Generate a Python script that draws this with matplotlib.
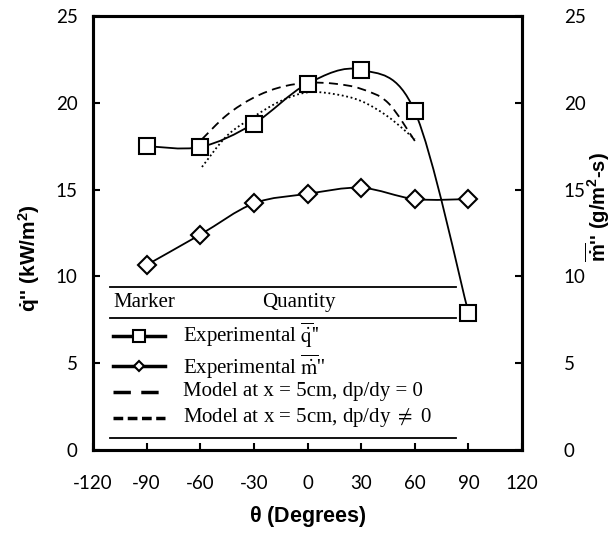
import numpy as np
import matplotlib
matplotlib.use('Agg')
import matplotlib.pyplot as plt
from matplotlib.path import Path
from matplotlib.patches import PathPatch
from matplotlib.lines import Line2D

plt.rcParams['axes.unicode_minus'] = False
plt.rcParams['mathtext.fontset'] = 'custom'
plt.rcParams['mathtext.rm'] = 'Liberation Sans:bold'
plt.rcParams['mathtext.it'] = 'Liberation Sans:bold'
plt.rcParams['mathtext.bf'] = 'Liberation Sans:bold'

# data
theta = [-90, -60, -30, 0, 30, 60, 90]
q_exp = [17.5, 17.45, 18.8, 21.1, 21.9, 19.5, 7.9]
m_exp = [10.65, 12.4, 14.2, 14.75, 15.1, 14.45, 14.45]

theta_model = [-59, -45, -30, -15, 0, 15, 30, 45, 60]
q_model_dp0 = [17.9, 19.3, 20.3, 20.9, 21.15, 21.1, 20.8, 20.0, 17.8]
q_model_dpn = [16.3, 18.1, 19.2, 20.1, 20.6, 20.5, 20.1, 19.2, 17.9]

x_ticks = [-120, -90, -60, -30, 0, 30, 60, 90, 120]
y_ticks = [0, 5, 10, 15, 20, 25]


def smooth_path(xs, ys):
    # excel style smoothed line: catmull-rom segments as cubic beziers
    pts = np.column_stack([xs, ys]).astype(float)
    ext = np.vstack([pts[0], pts, pts[-1]])
    verts = [pts[0]]
    codes = [Path.MOVETO]
    for i in range(1, len(ext) - 2):
        p0, p1, p2, p3 = ext[i - 1], ext[i], ext[i + 1], ext[i + 2]
        verts += [p1 + (p2 - p0) / 6.0, p2 - (p3 - p1) / 6.0, p2]
        codes += [Path.CURVE4] * 3
    return Path(verts, codes)


fig = plt.figure(figsize=(6.15, 5.33), dpi=100)
ax = fig.add_axes([0.151, 0.156, 0.698, 0.814])

ax.add_patch(PathPatch(smooth_path(theta, q_exp), fill=False, color='k', lw=1.3, zorder=3))
ax.add_patch(PathPatch(smooth_path(theta, m_exp), fill=False, color='k', lw=1.3, zorder=3))
ax.add_patch(PathPatch(smooth_path(theta_model, q_model_dp0), fill=False, color='k', lw=1.3,
                       linestyle=(0, (5, 3)), zorder=3))
ax.add_patch(PathPatch(smooth_path(theta_model, q_model_dpn), fill=False, color='k', lw=1.3,
                       linestyle=(0, (1, 1.5)), zorder=3))
ax.plot(theta, q_exp, 's', ms=11.5, mfc='white', mec='k', mew=1.5, ls='none', zorder=4)
ax.plot(theta, m_exp, 'D', ms=9, mfc='white', mec='k', mew=1.5, ls='none', zorder=4)

ax.set_xlim(-120, 120)
ax.set_ylim(0, 25)
ax.set_xticks(x_ticks)
ax.set_yticks(y_ticks)
for s in ax.spines.values():
    s.set_linewidth(2.2)
ax.tick_params(direction='in', length=5, width=1.5, labelsize=13.5)
ax.tick_params(axis='x', pad=18)
ax.tick_params(axis='y', pad=11)
for lab in ax.get_xticklabels() + ax.get_yticklabels():
    lab.set_fontfamily('Lato')

ax2 = ax.twinx()
ax2.set_ylim(0, 25)
ax2.set_yticks(y_ticks)
ax2.tick_params(direction='in', length=5, width=1.5, labelsize=13.5, pad=30)
for lab in ax2.get_yticklabels():
    lab.set_fontfamily('Lato')
for s in ax2.spines.values():
    s.set_linewidth(2.2)

ax.set_xlabel(r'$\mathbf{\theta}$ (Degrees)', fontsize=15.5, fontweight='bold',
              family='Liberation Sans', labelpad=9)
fig.text(0.047, 0.516, r"$\dot{q}$'' (kW/m$^{2}$)", rotation=90, ha='center', va='center',
         fontsize=15, fontweight='bold', family='Liberation Sans')
fig.text(0.972, 0.612, r"$\overline{\dot{m}}$'' (g/m$^{2}$-s)", rotation=90, ha='center',
         va='center', fontsize=14.5, fontweight='bold', family='Liberation Sans')

# table style legend
tr = ax.transAxes
for yy in [0.3756, 0.304, 0.0276]:
    ax.add_line(Line2D([0.04, 0.846], [yy, yy], color='k', lw=1.3, transform=tr))
serif = dict(family='Liberation Serif', math_fontfamily='stix', fontsize=15, va='center',
             transform=tr)
ax.text(0.047, 0.339, 'Marker', **serif)
ax.text(0.395, 0.339, 'Quantity', **serif)
rows = [0.263, 0.193, 0.134, 0.0737]
labels = ["Experimental $\\overline{\\dot{\\mathrm{q}}}$''",
          "Experimental $\\overline{\\dot{\\mathrm{m}}}$''",
          'Model at x = 5cm, dp/dy = 0',
          'Model at x = 5cm, dp/dy $\\neq$ 0']
for yy, txt in zip(rows, labels):
    ax.text(0.21, yy, txt, **serif)
ax.add_line(Line2D([0.047, 0.168], [rows[0]] * 2, color='k', lw=2.5, transform=tr))
ax.add_line(Line2D([0.1075], [rows[0]], marker='s', ms=8, mfc='white', mec='k', mew=1.5,
                   transform=tr))
ax.add_line(Line2D([0.047, 0.168], [rows[1]] * 2, color='k', lw=2.5, transform=tr))
ax.add_line(Line2D([0.1075], [rows[1]], marker='D', ms=5.5, mfc='white', mec='k', mew=1.5,
                   transform=tr))
ax.add_line(Line2D([0.047, 0.168], [rows[2]] * 2, color='k', lw=2.5, linestyle=(0, (5, 3)),
                   transform=tr))
ax.add_line(Line2D([0.047, 0.168], [rows[3]] * 2, color='k', lw=2.5, linestyle=(0, (2.8, 1.3)),
                   transform=tr))

fig.savefig('out.png', dpi=100)
